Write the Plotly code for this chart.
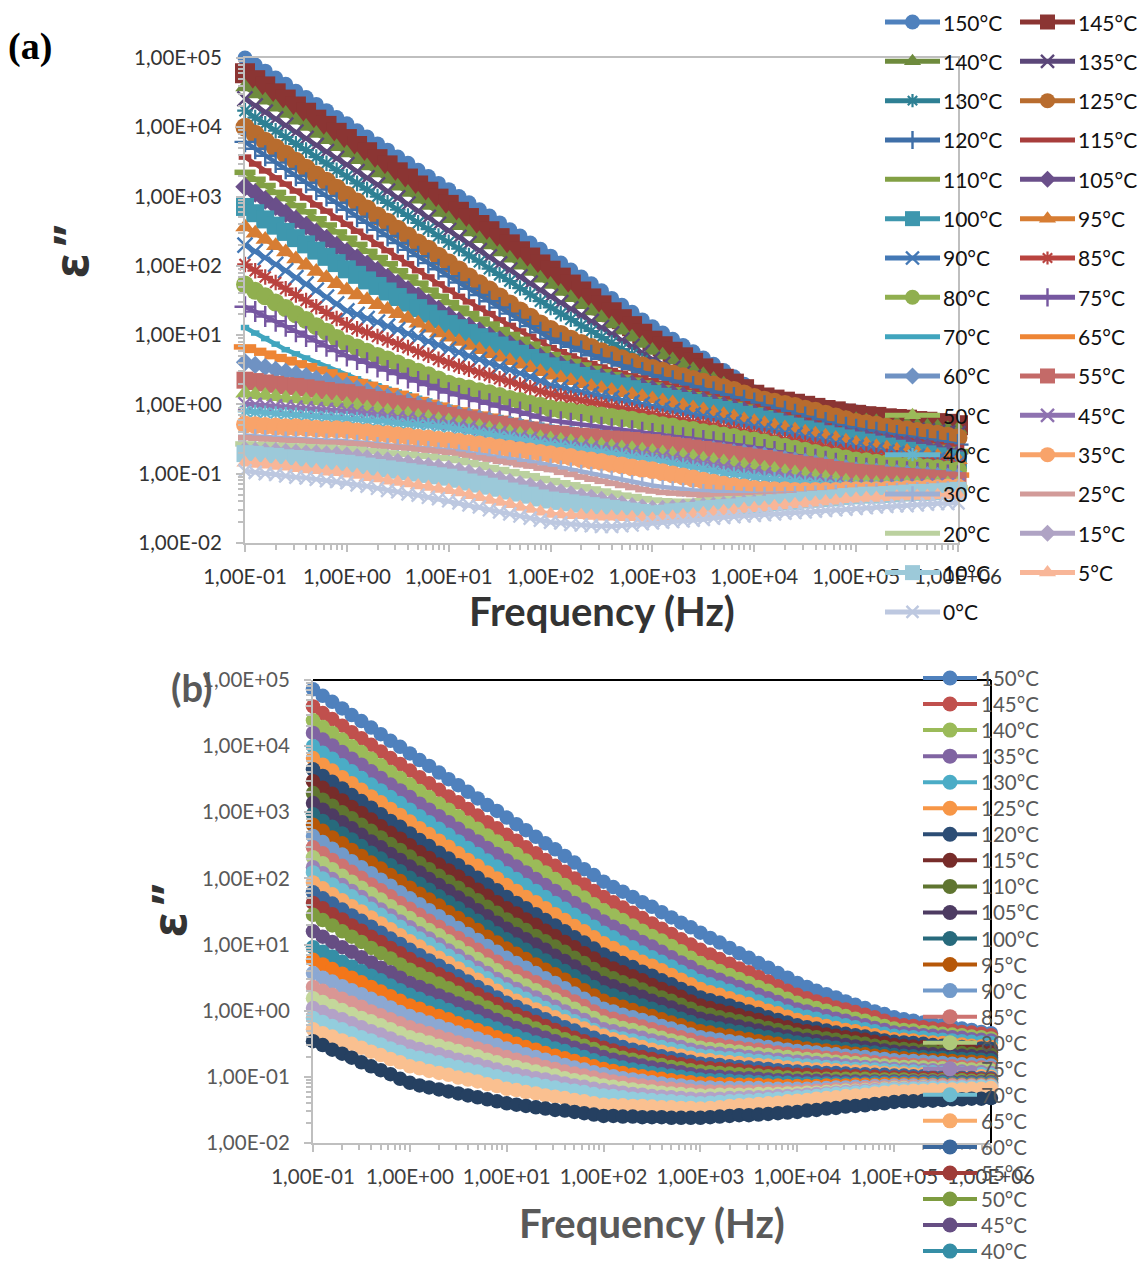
import plotly.graph_objects as go

# Frequency grid: ten readings per decade
FREQ_MANT = [1, 1.26, 1.58, 2, 2.51, 3.16, 3.98, 5.01, 6.31, 7.94]
FREQ_DEC = [0.1, 1, 10, 100, 1000, 10000, 100000]
FREQ = [round(m * d, 3) for d in FREQ_DEC for m in FREQ_MANT] + [1000000]

TICKS = [0.1, 1, 10, 100, 1000, 10000, 100000, 1000000]
XLABELS = ["1,00E-01", "1,00E+00", "1,00E+01", "1,00E+02", "1,00E+03", "1,00E+04", "1,00E+05", "1,00E+06"]
YTICKS = [0.01, 0.1, 1, 10, 100, 1000, 10000, 100000]
YLABELS = ["1,00E-02", "1,00E-01", "1,00E+00", "1,00E+01", "1,00E+02", "1,00E+03", "1,00E+04", "1,00E+05"]
TEMPS = [150, 145, 140, 135, 130, 125, 120, 115, 110, 105, 100, 95, 90, 85, 80, 75, 70, 65, 60, 55, 50, 45, 40, 35, 30, 25, 20, 15, 10, 5, 0]

# Panel (a): log10(eps'') x 100, one list per temperature
A150=[500,490,481,471,462,452,443,433,424,414,405,395,386,376,367,357,348,338,329,319,310,300,291,281,272,262,252,243,233,224,214,204,194,184,174,164,153,143,133,122,112,103,94,85,76,67,58,49,40,29,18,13,9,5,2,0,-2,-4,-7,-9,-11,-13,-15,-18,-20,-22,-24,-26,-28,-31,-33]
A145=[478,468,459,449,440,430,421,411,402,392,383,373,364,354,345,335,326,316,307,297,288,278,269,259,250,240,231,221,212,202,193,183,173,163,153,143,133,123,113,102,92,84,76,68,60,52,45,37,30,22,14,10,7,4,1,-2,-5,-8,-10,-13,-15,-17,-18,-20,-21,-22,-24,-25,-27,-28,-30]
A140=[458,448,439,429,420,410,401,391,382,372,363,353,344,334,325,315,306,296,287,277,268,258,249,239,230,220,211,201,192,182,173,163,154,144,135,125,116,107,97,88,78,71,64,57,50,43,36,29,22,13,5,2,-2,-5,-8,-11,-13,-15,-18,-20,-22,-24,-25,-27,-28,-29,-31,-32,-33,-35,-36]
A135=[441,431,422,412,403,393,384,374,365,355,346,336,327,317,308,298,289,279,270,260,251,241,232,222,213,203,194,184,175,165,156,147,138,129,120,111,102,93,84,75,65,58,52,45,39,32,26,19,12,5,-2,-5,-8,-11,-14,-17,-20,-23,-25,-28,-30,-31,-32,-34,-35,-36,-37,-38,-40,-41,-42]
A130=[424,414,405,395,386,376,367,357,348,338,329,319,310,300,291,281,272,262,253,243,234,225,215,206,196,187,178,168,159,149,140,131,123,114,106,97,89,80,72,63,55,49,43,37,31,25,19,13,7,1,-5,-8,-11,-14,-17,-20,-23,-26,-28,-31,-33,-34,-35,-37,-38,-39,-40,-41,-43,-44,-45]
A125=[400,390,380,370,361,351,341,331,322,312,302,292,282,272,263,253,243,233,224,214,204,194,184,174,165,155,145,135,126,116,108,101,94,88,82,76,71,66,61,56,52,48,44,40,36,32,28,24,20,15,10,6,3,0,-3,-7,-10,-14,-18,-22,-26,-28,-30,-33,-35,-37,-39,-41,-43,-46,-48]
A120=[379,369,359,349,340,330,320,310,301,291,281,271,262,252,243,233,223,214,204,195,185,176,167,158,149,140,131,122,113,104,95,89,83,77,71,66,61,56,51,46,42,38,34,30,26,22,18,14,10,6,2,-2,-6,-10,-14,-18,-22,-26,-30,-33,-36,-38,-40,-43,-45,-47,-49,-51,-53,-56,-58]
A115=[357,347,337,327,318,308,298,288,279,269,260,250,241,231,222,212,203,193,184,174,165,156,148,139,131,122,114,106,98,90,82,76,70,64,59,54,49,45,41,38,34,30,26,23,19,15,11,8,4,1,-3,-7,-11,-15,-19,-23,-27,-31,-35,-39,-42,-44,-46,-48,-50,-52,-54,-56,-58,-60,-62]
A110=[335,325,316,306,297,287,278,268,259,249,240,231,221,212,203,193,184,175,165,156,147,139,131,123,116,108,101,94,87,80,72,67,62,57,52,47,43,39,35,31,28,24,21,17,14,10,7,3,0,-4,-8,-12,-16,-20,-24,-28,-32,-36,-40,-43,-45,-47,-49,-51,-54,-56,-58,-60,-62,-65,-68]
A105=[314,305,295,286,276,267,258,248,239,229,220,211,202,193,183,174,165,156,146,137,128,120,113,106,99,93,87,80,74,68,62,57,52,47,43,39,35,32,29,25,22,18,15,12,8,5,2,-2,-5,-9,-13,-17,-21,-25,-29,-33,-36,-39,-42,-45,-47,-49,-51,-54,-56,-58,-60,-63,-66,-69,-72]
A100=[285,276,267,258,249,240,231,222,213,204,195,187,179,171,163,155,147,139,131,123,116,110,103,97,91,85,79,73,67,61,55,50,46,41,37,33,30,26,22,18,15,11,8,5,2,-2,-5,-8,-11,-15,-18,-22,-25,-29,-32,-36,-39,-43,-46,-49,-52,-55,-58,-61,-64,-67,-70,-72,-75,-78,-81]
A95=[256,247,238,229,220,210,201,192,183,174,165,158,151,144,137,131,124,117,110,103,97,91,85,79,73,68,63,58,53,47,42,38,34,30,26,23,20,17,14,11,8,5,2,-2,-5,-8,-12,-15,-18,-22,-25,-28,-31,-34,-37,-40,-43,-46,-49,-53,-56,-58,-61,-63,-66,-68,-70,-73,-75,-78,-80]
A90=[230,221,212,202,193,183,174,165,155,145,135,130,124,119,113,108,102,97,91,86,80,75,70,65,60,55,50,45,40,34,28,25,21,18,15,12,9,6,3,0,-3,-6,-9,-12,-15,-17,-20,-23,-26,-29,-32,-35,-38,-41,-44,-47,-50,-53,-56,-59,-62,-64,-66,-69,-71,-73,-75,-78,-80,-82,-85]
A85=[202,193,184,176,167,158,150,141,132,124,115,109,104,98,93,87,82,76,71,65,60,55,51,46,42,37,33,28,24,19,15,12,9,6,3,0,-3,-6,-8,-11,-14,-17,-20,-23,-26,-28,-31,-34,-36,-39,-42,-45,-48,-51,-53,-56,-59,-62,-65,-67,-70,-72,-74,-75,-77,-79,-81,-83,-85,-86,-88]
A80=[173,164,156,147,139,130,122,113,105,96,88,82,76,70,65,59,53,47,42,36,30,26,23,19,16,12,8,5,1,-2,-6,-8,-10,-12,-14,-16,-18,-20,-22,-25,-27,-30,-32,-35,-37,-40,-42,-45,-47,-50,-52,-55,-58,-61,-64,-67,-70,-73,-75,-78,-81,-82,-84,-85,-87,-88,-89,-91,-92,-94,-95]
A75=[141,134,127,120,113,105,98,91,84,77,70,65,60,54,49,44,38,33,28,22,17,13,9,5,1,-3,-7,-11,-15,-19,-23,-25,-27,-29,-31,-33,-35,-37,-38,-40,-42,-44,-46,-48,-50,-52,-54,-56,-58,-60,-62,-65,-68,-71,-74,-77,-79,-82,-85,-88,-91,-92,-93,-95,-96,-97,-98,-99,-100,-102,-103]
A70=[111,103,95,87,79,73,67,60,54,48,42,37,32,27,22,18,14,9,5,0,-4,-8,-11,-14,-17,-19,-22,-25,-28,-30,-33,-35,-36,-38,-40,-42,-43,-45,-47,-48,-50,-52,-54,-55,-57,-59,-61,-62,-64,-66,-68,-70,-72,-74,-77,-79,-81,-83,-85,-88,-90,-91,-92,-93,-94,-95,-96,-97,-98,-99,-100]
A65=[83,78,74,69,65,60,56,51,47,42,37,33,29,24,20,16,12,7,3,-1,-5,-8,-11,-14,-17,-20,-23,-26,-29,-32,-35,-37,-39,-40,-42,-44,-45,-47,-49,-50,-52,-54,-56,-58,-59,-61,-63,-65,-66,-68,-70,-72,-74,-76,-79,-81,-83,-85,-87,-90,-92,-93,-94,-95,-96,-97,-98,-99,-100,-101,-102]
A60=[61,57,54,50,47,44,41,37,34,30,27,23,19,15,11,8,4,0,-3,-7,-11,-14,-17,-20,-23,-26,-28,-31,-34,-37,-40,-42,-43,-45,-46,-48,-49,-51,-52,-54,-55,-57,-59,-60,-62,-64,-65,-67,-69,-70,-72,-74,-76,-79,-81,-83,-85,-87,-90,-92,-95,-96,-97,-98,-99,-100,-101,-102,-103,-104,-105]
A55=[35,33,31,29,27,26,24,22,20,18,17,14,10,7,4,1,-3,-6,-9,-13,-16,-19,-21,-24,-27,-29,-32,-35,-37,-40,-42,-43,-45,-46,-47,-49,-50,-51,-52,-54,-55,-57,-59,-61,-63,-65,-67,-69,-72,-74,-76,-78,-80,-83,-85,-87,-89,-91,-94,-96,-98,-99,-100,-102,-103,-104,-105,-106,-107,-109,-110]
A50=[16,14,13,11,9,8,6,5,3,2,0,-2,-5,-7,-10,-12,-14,-17,-19,-22,-24,-27,-29,-32,-35,-37,-40,-43,-45,-48,-50,-52,-54,-56,-58,-59,-61,-63,-64,-66,-68,-70,-72,-74,-76,-79,-81,-83,-85,-88,-90,-92,-94,-97,-99,-101,-104,-106,-108,-111,-113,-113,-114,-114,-114,-114,-115,-115,-115,-115,-115]
A45=[1,0,-1,-2,-3,-4,-5,-6,-7,-8,-9,-11,-13,-15,-17,-19,-20,-22,-24,-26,-28,-31,-33,-36,-39,-41,-44,-47,-49,-52,-54,-56,-58,-60,-62,-64,-65,-67,-69,-71,-73,-75,-78,-80,-83,-85,-88,-90,-93,-95,-98,-100,-102,-104,-106,-108,-110,-112,-114,-116,-118,-118,-118,-118,-117,-117,-117,-117,-116,-116,-116]
A40=[-10,-11,-12,-13,-14,-15,-16,-17,-18,-19,-20,-21,-23,-24,-25,-27,-28,-29,-30,-32,-33,-36,-38,-41,-43,-46,-48,-51,-53,-56,-58,-60,-62,-65,-67,-69,-71,-73,-76,-78,-80,-83,-85,-88,-91,-93,-96,-99,-101,-103,-105,-107,-108,-110,-111,-113,-114,-116,-117,-119,-120,-120,-120,-120,-119,-119,-119,-119,-118,-118,-118]
A35=[-29,-30,-31,-32,-33,-33,-34,-35,-36,-36,-37,-39,-40,-42,-43,-45,-46,-48,-49,-51,-52,-54,-56,-58,-60,-62,-64,-66,-68,-70,-72,-74,-76,-79,-81,-83,-86,-88,-91,-93,-95,-98,-101,-104,-107,-110,-113,-116,-118,-120,-122,-123,-124,-124,-125,-125,-125,-125,-125,-124,-124,-124,-124,-123,-123,-122,-122,-121,-121,-120,-120]
A30=[-45,-46,-47,-48,-49,-49,-50,-51,-52,-52,-53,-54,-56,-57,-59,-60,-61,-62,-63,-65,-66,-68,-70,-72,-74,-77,-79,-81,-83,-85,-88,-91,-94,-97,-100,-103,-106,-109,-112,-115,-117,-119,-121,-123,-124,-125,-126,-127,-128,-129,-129,-129,-129,-129,-128,-128,-127,-127,-126,-126,-125,-125,-124,-124,-123,-123,-122,-122,-121,-121,-120]
A25=[-48,-49,-50,-51,-52,-52,-53,-54,-55,-55,-56,-57,-58,-60,-61,-62,-63,-65,-66,-68,-69,-72,-74,-77,-79,-82,-84,-87,-89,-92,-94,-98,-101,-105,-108,-111,-114,-117,-120,-123,-125,-127,-128,-129,-130,-131,-132,-132,-132,-132,-132,-131,-131,-130,-130,-129,-128,-128,-127,-127,-126,-125,-125,-124,-124,-123,-123,-122,-121,-121,-120]
A20=[-57,-58,-58,-59,-60,-60,-61,-62,-62,-63,-64,-65,-67,-68,-70,-71,-72,-74,-75,-77,-78,-81,-84,-87,-91,-94,-97,-100,-103,-107,-110,-113,-116,-119,-122,-125,-128,-131,-133,-136,-138,-139,-140,-140,-140,-139,-138,-137,-136,-136,-135,-134,-134,-133,-132,-132,-131,-130,-130,-129,-128,-127,-127,-126,-125,-124,-123,-123,-122,-121,-120]
A15=[-64,-65,-66,-66,-67,-68,-69,-69,-70,-71,-72,-74,-76,-78,-79,-81,-83,-85,-87,-89,-91,-94,-97,-100,-103,-106,-110,-113,-116,-119,-122,-125,-128,-131,-133,-136,-139,-142,-145,-147,-149,-149,-148,-147,-146,-145,-144,-143,-142,-141,-140,-139,-138,-137,-136,-135,-134,-133,-132,-131,-130,-129,-128,-128,-127,-126,-125,-124,-124,-123,-122]
A10=[-71,-72,-74,-75,-77,-78,-79,-81,-82,-84,-85,-87,-89,-91,-93,-95,-97,-99,-101,-103,-105,-108,-112,-115,-118,-121,-125,-128,-131,-135,-138,-140,-142,-144,-146,-148,-150,-152,-154,-156,-158,-157,-155,-154,-153,-151,-150,-149,-148,-146,-145,-144,-142,-141,-140,-138,-137,-136,-135,-133,-132,-131,-131,-130,-129,-128,-127,-127,-126,-125,-124]
A5=[-84,-86,-87,-89,-90,-92,-94,-95,-97,-98,-100,-102,-105,-107,-110,-112,-114,-117,-119,-122,-124,-127,-131,-134,-138,-141,-144,-148,-151,-155,-158,-159,-160,-160,-161,-162,-162,-163,-163,-164,-165,-163,-162,-160,-159,-157,-156,-154,-153,-151,-150,-149,-147,-146,-144,-143,-142,-140,-139,-137,-136,-135,-135,-134,-133,-133,-132,-132,-131,-131,-130]
A0=[-96,-98,-100,-101,-103,-105,-106,-108,-110,-111,-113,-116,-118,-121,-124,-126,-129,-131,-134,-136,-139,-142,-145,-148,-152,-155,-158,-161,-164,-167,-170,-171,-173,-174,-175,-176,-176,-175,-174,-172,-171,-170,-169,-168,-167,-166,-164,-163,-162,-161,-160,-159,-158,-157,-156,-155,-154,-153,-152,-151,-150,-149,-148,-147,-146,-146,-145,-144,-143,-143,-142]

# Panel (b): log10(eps'') x 100, one list per temperature
B150=[486,476,467,457,447,438,428,418,408,399,389,379,370,360,350,341,331,321,311,302,292,282,273,263,253,244,234,224,214,205,195,187,180,172,164,157,149,141,133,126,118,110,103,95,87,80,72,65,57,50,42,36,30,25,20,14,9,4,-1,-5,-10,-13,-15,-18,-20,-22,-24,-27,-29,-32,-34]
B145=[460,450,441,431,421,412,402,392,382,373,363,353,344,334,324,315,305,295,285,276,266,257,247,238,228,219,210,200,191,181,172,164,156,148,140,132,124,116,108,100,92,85,78,71,64,58,51,44,37,30,24,19,14,10,5,2,-2,-6,-10,-15,-20,-22,-23,-25,-27,-28,-30,-32,-33,-35,-37]
B140=[439,429,420,410,400,391,381,371,361,352,342,332,323,313,304,294,284,275,265,256,246,237,227,218,209,199,190,180,171,161,152,144,137,129,121,113,106,98,90,80,72,66,60,54,48,42,36,30,24,18,12,8,4,0,-4,-8,-12,-15,-19,-23,-27,-29,-30,-32,-33,-35,-36,-37,-39,-40,-42]
B135=[420,410,401,391,381,372,362,352,342,333,323,313,304,294,285,275,265,256,246,237,227,218,209,199,190,181,172,163,153,144,135,127,120,112,104,97,89,81,73,66,58,52,47,41,36,30,24,19,13,8,2,-1,-5,-8,-12,-15,-19,-22,-26,-29,-33,-34,-35,-37,-38,-39,-40,-41,-43,-44,-45]
B130=[400,390,381,371,362,352,342,333,323,314,304,294,285,275,266,256,246,237,227,218,208,199,190,181,172,163,154,145,136,127,118,111,103,96,88,81,74,67,59,52,45,40,35,30,25,20,14,9,4,-1,-6,-9,-12,-16,-19,-22,-25,-28,-31,-35,-38,-39,-40,-41,-43,-44,-45,-46,-47,-48,-49]
B125=[382,372,363,353,344,334,324,315,305,296,286,276,267,257,248,238,228,219,209,200,190,181,172,164,155,146,137,128,120,111,102,95,88,81,74,68,61,54,47,40,33,28,24,19,14,10,5,0,-4,-9,-14,-17,-20,-23,-26,-29,-31,-34,-37,-40,-43,-44,-45,-47,-48,-49,-50,-51,-53,-54,-55]
B120=[365,355,346,336,326,317,307,297,287,278,268,258,249,239,230,220,210,201,191,182,172,163,155,146,137,129,120,111,103,94,85,79,72,66,59,53,46,40,33,27,20,16,12,8,3,-1,-5,-10,-14,-18,-22,-25,-27,-30,-33,-35,-37,-39,-42,-45,-47,-48,-49,-50,-52,-53,-54,-55,-56,-57,-58]
B115=[347,337,328,318,308,299,289,279,269,260,250,240,231,221,212,203,193,183,174,164,155,147,138,130,121,113,104,96,87,79,70,64,58,52,46,39,33,27,21,14,8,4,0,-3,-7,-11,-14,-18,-22,-25,-29,-31,-33,-36,-38,-40,-42,-44,-47,-49,-52,-53,-54,-55,-57,-58,-59,-60,-61,-62,-63]
B110=[329,319,310,300,291,281,272,262,252,243,233,223,214,204,195,186,176,167,157,148,138,130,122,113,105,97,89,80,72,63,55,49,43,38,32,26,20,15,9,3,-3,-6,-10,-13,-16,-19,-23,-26,-29,-32,-36,-38,-40,-42,-44,-46,-48,-50,-53,-55,-57,-58,-59,-60,-61,-62,-63,-64,-65,-66,-67]
B105=[314,304,295,285,276,266,256,247,237,228,218,209,199,190,181,171,162,152,143,133,124,116,108,100,92,83,75,67,58,50,42,37,31,26,21,15,10,5,-1,-7,-12,-15,-18,-21,-24,-27,-30,-33,-36,-39,-42,-44,-46,-48,-50,-52,-54,-56,-58,-60,-62,-63,-64,-65,-66,-67,-67,-68,-69,-70,-71]
B100=[297,287,278,268,259,249,239,230,220,211,201,192,183,173,164,155,145,136,127,117,108,100,92,84,76,68,60,52,44,36,28,23,18,13,8,3,-2,-7,-12,-17,-22,-25,-27,-30,-32,-35,-38,-40,-43,-45,-48,-50,-52,-54,-56,-58,-60,-62,-63,-65,-67,-68,-69,-70,-71,-71,-72,-73,-73,-74,-75]
B95=[281,272,262,253,243,234,224,215,205,196,186,177,168,159,149,140,131,122,112,103,94,86,78,70,62,55,47,39,31,23,15,10,6,1,-4,-8,-13,-18,-22,-27,-31,-33,-36,-38,-41,-43,-46,-48,-50,-53,-55,-57,-59,-60,-62,-63,-65,-66,-68,-69,-71,-72,-73,-74,-75,-75,-76,-77,-77,-78,-79]
B90=[264,255,245,236,226,217,208,198,189,179,170,161,152,143,134,125,116,107,98,89,80,72,65,57,49,42,34,26,18,11,3,-1,-6,-10,-14,-18,-23,-27,-31,-36,-40,-42,-44,-46,-48,-51,-53,-55,-57,-59,-61,-62,-63,-65,-66,-68,-69,-70,-72,-73,-75,-76,-76,-77,-78,-79,-80,-81,-81,-82,-83]
B85=[247,238,228,219,210,201,191,182,173,163,154,145,136,127,118,110,101,92,83,74,65,58,50,43,36,29,21,14,7,-1,-8,-12,-16,-20,-24,-28,-32,-36,-40,-44,-48,-50,-52,-54,-56,-58,-59,-61,-63,-65,-67,-68,-69,-71,-72,-73,-75,-76,-78,-79,-80,-81,-82,-82,-83,-84,-84,-85,-86,-86,-87]
B80=[232,223,214,204,195,186,177,168,158,149,140,131,122,114,105,96,87,78,70,61,52,45,38,31,24,17,10,3,-4,-11,-18,-22,-26,-29,-33,-37,-41,-45,-48,-52,-56,-58,-59,-61,-62,-64,-66,-67,-69,-70,-72,-73,-74,-75,-77,-78,-79,-80,-82,-83,-84,-85,-85,-86,-87,-87,-88,-88,-89,-89,-90]
B75=[217,208,199,190,181,172,162,153,144,135,126,117,109,100,91,83,74,65,57,48,40,33,26,20,13,6,-1,-8,-14,-21,-28,-31,-35,-38,-41,-45,-48,-52,-55,-59,-62,-64,-65,-67,-68,-70,-71,-73,-74,-76,-77,-78,-79,-80,-81,-83,-84,-85,-86,-87,-88,-89,-89,-90,-90,-91,-92,-92,-93,-93,-94]
B70=[209,200,191,182,173,164,154,145,136,127,118,109,101,92,83,75,66,57,49,40,32,25,18,11,4,-2,-9,-16,-22,-29,-36,-39,-42,-45,-49,-52,-55,-58,-61,-65,-68,-69,-71,-72,-73,-75,-76,-77,-79,-80,-82,-83,-84,-85,-86,-87,-88,-88,-89,-90,-91,-92,-92,-93,-93,-94,-95,-95,-96,-96,-97]
B65=[194,185,176,167,158,150,141,132,123,114,105,97,88,80,72,64,55,47,39,30,22,15,9,2,-4,-10,-16,-22,-27,-33,-38,-43,-47,-51,-55,-59,-62,-65,-68,-71,-74,-75,-77,-78,-79,-81,-82,-83,-84,-86,-87,-88,-89,-89,-90,-91,-92,-92,-93,-94,-95,-95,-96,-96,-97,-97,-98,-98,-99,-99,-100]
B60=[179,170,162,153,144,136,127,118,109,101,92,84,76,68,60,52,44,36,28,20,12,6,-1,-7,-13,-19,-25,-30,-36,-41,-46,-50,-55,-59,-62,-66,-69,-72,-74,-77,-80,-81,-82,-84,-85,-86,-87,-88,-90,-91,-92,-93,-93,-94,-94,-95,-96,-96,-97,-97,-98,-98,-99,-99,-100,-100,-100,-101,-101,-102,-102]
B55=[163,155,146,138,129,121,112,104,95,87,78,70,63,55,48,40,32,25,17,10,2,-5,-11,-17,-23,-29,-35,-41,-46,-51,-56,-60,-64,-67,-70,-73,-76,-78,-81,-83,-86,-87,-88,-89,-90,-92,-93,-94,-95,-96,-97,-97,-98,-98,-99,-99,-99,-100,-100,-101,-101,-101,-102,-102,-102,-103,-103,-103,-103,-104,-104]
B50=[145,137,129,120,112,104,95,87,79,70,62,55,48,41,34,27,19,12,5,-2,-9,-15,-21,-27,-32,-38,-43,-48,-53,-58,-63,-67,-71,-74,-77,-80,-82,-85,-87,-90,-92,-93,-94,-95,-96,-97,-98,-99,-100,-101,-102,-102,-103,-103,-103,-103,-103,-103,-104,-104,-104,-104,-105,-105,-105,-105,-105,-105,-106,-106,-106]
B45=[120,112,104,96,89,81,73,65,58,50,42,36,30,23,17,11,5,-1,-8,-14,-20,-26,-31,-36,-41,-46,-51,-56,-60,-65,-70,-74,-77,-80,-83,-86,-88,-91,-93,-96,-98,-99,-100,-101,-102,-102,-103,-104,-105,-105,-106,-106,-106,-106,-107,-107,-107,-107,-107,-107,-107,-107,-107,-107,-107,-107,-108,-108,-108,-108,-108]
B40=[96,89,82,74,67,60,53,46,38,31,24,18,12,7,1,-5,-10,-16,-22,-27,-33,-38,-43,-48,-52,-57,-61,-66,-70,-75,-79,-83,-86,-89,-91,-94,-96,-98,-100,-102,-104,-105,-105,-106,-107,-107,-108,-108,-109,-109,-110,-110,-110,-110,-110,-110,-110,-110,-109,-109,-109,-109,-109,-109,-109,-109,-110,-110,-110,-110,-110]
B35=[77,70,63,56,50,43,36,29,22,15,8,3,-3,-8,-13,-19,-24,-29,-34,-40,-45,-50,-55,-59,-64,-68,-72,-76,-80,-84,-88,-91,-94,-97,-99,-101,-103,-105,-107,-108,-110,-110,-111,-111,-112,-112,-112,-113,-113,-114,-114,-114,-114,-113,-113,-113,-112,-112,-112,-111,-111,-111,-111,-111,-112,-112,-112,-112,-112,-112,-112]
B30=[57,50,44,37,31,25,18,12,5,-2,-8,-13,-18,-23,-28,-33,-37,-42,-47,-52,-57,-61,-66,-70,-74,-78,-82,-86,-89,-93,-96,-99,-102,-104,-106,-108,-110,-112,-113,-115,-116,-116,-117,-117,-117,-117,-117,-118,-118,-118,-118,-118,-117,-117,-116,-116,-115,-115,-114,-114,-113,-113,-113,-113,-113,-113,-113,-113,-113,-113,-113]
B25=[36,30,24,18,12,6,-1,-7,-13,-19,-25,-30,-34,-39,-43,-48,-52,-57,-61,-66,-70,-74,-78,-81,-85,-88,-92,-95,-98,-101,-104,-107,-109,-111,-113,-115,-117,-118,-119,-121,-122,-122,-122,-122,-122,-122,-122,-122,-122,-122,-122,-121,-121,-120,-119,-119,-118,-117,-116,-116,-115,-115,-115,-115,-115,-114,-114,-114,-114,-114,-114]
B20=[19,13,7,1,-5,-11,-16,-22,-28,-34,-40,-44,-48,-53,-57,-61,-65,-69,-74,-78,-82,-85,-89,-92,-95,-98,-102,-105,-107,-110,-113,-115,-117,-119,-121,-122,-124,-125,-126,-127,-128,-128,-127,-127,-127,-127,-126,-126,-126,-125,-125,-124,-124,-123,-122,-121,-121,-120,-119,-118,-117,-117,-117,-116,-116,-116,-116,-116,-115,-115,-115]
B15=[4,-2,-8,-13,-19,-25,-31,-36,-42,-48,-54,-58,-62,-66,-70,-74,-77,-81,-85,-89,-93,-96,-99,-102,-104,-107,-110,-113,-115,-118,-120,-122,-124,-126,-127,-129,-130,-131,-132,-133,-134,-133,-133,-132,-132,-131,-131,-130,-129,-129,-128,-127,-126,-125,-124,-123,-122,-121,-120,-119,-118,-118,-117,-117,-116,-116,-116,-115,-115,-115,-115]
B10=[-11,-17,-23,-28,-34,-40,-45,-51,-57,-62,-68,-71,-75,-78,-82,-85,-89,-92,-96,-99,-103,-106,-109,-111,-114,-116,-119,-121,-123,-126,-128,-129,-131,-133,-134,-135,-136,-137,-138,-139,-140,-139,-138,-137,-136,-136,-135,-134,-133,-132,-131,-130,-129,-127,-126,-125,-124,-123,-122,-120,-119,-119,-118,-118,-117,-117,-117,-116,-116,-115,-115]
B5=[-28,-34,-39,-45,-50,-56,-62,-67,-73,-78,-84,-87,-91,-94,-97,-101,-104,-107,-111,-114,-118,-120,-123,-125,-128,-130,-132,-135,-137,-140,-142,-143,-143,-144,-144,-145,-146,-146,-147,-147,-148,-147,-146,-144,-143,-142,-141,-140,-139,-137,-136,-135,-133,-132,-131,-129,-128,-127,-125,-124,-122,-122,-121,-121,-120,-120,-119,-119,-118,-118,-117]
B0=[-46,-52,-59,-65,-71,-78,-84,-90,-96,-103,-109,-113,-116,-119,-122,-125,-128,-131,-134,-137,-140,-142,-144,-146,-148,-150,-151,-153,-155,-157,-159,-159,-160,-160,-161,-161,-161,-162,-162,-162,-162,-161,-160,-159,-158,-158,-157,-156,-155,-154,-153,-151,-150,-148,-147,-145,-144,-143,-141,-140,-138,-137,-137,-136,-136,-135,-134,-134,-133,-133,-132]

A_VALUES = [A150,A145,A140,A135,A130,A125,A120,A115,A110,A105,A100,A95,A90,A85,A80,A75,A70,A65,A60,A55,A50,A45,A40,A35,A30,A25,A20,A15,A10,A5,A0]
B_VALUES = [B150,B145,B140,B135,B130,B125,B120,B115,B110,B105,B100,B95,B90,B85,B80,B75,B70,B65,B60,B55,B50,B45,B40,B35,B30,B25,B20,B15,B10,B5,B0]

A_COLORS = ["#4F81BD","#8B3533","#6E8B3D","#5B4779","#2E8094","#B86C2E","#3F6FA8","#A83E3C","#82A044","#6A4F8A","#3E97AE","#D77D33","#4378B5","#B9433F","#90AF4F","#7657A0","#40A5BE","#EE8535","#6F92C3","#C46A68","#9BBB59","#8E72B0","#65B5CD","#F8A36A","#9DAFD4","#D29B99","#BBD19F","#AFA3C4","#9CC9D9","#F8B698","#BDC8E0"]
B_COLORS = ["#4F81BD","#C0504D","#9BBB59","#8064A2","#4BACC6","#F79646","#2C4D75","#772C2A","#5F7530","#4D3B62","#276A7C","#B65708","#729ACA","#CD7371","#AFC97A","#9983B5","#6FBDD1","#F9AB6B","#3A679C","#9F3B38","#7E9C40","#664E83","#358EA6","#F37619","#8CA8D2","#D99694","#C4D79B","#B3A2C7","#93CDDD","#FAC090","#254061"]
A_SYMBOLS = ["circle","square","triangle-up","x-thin","asterisk","circle","cross-thin","line-ew","line-ew","diamond","square","triangle-up","x-thin","asterisk","circle","cross-thin","line-ew","line-ew","diamond","square","triangle-up","x-thin","asterisk","circle","cross-thin","line-ew","line-ew","diamond","square","triangle-up","x-thin"]
A_SIZES = [15,20,17,15,13,19,15,9,15,15,18,17,15,13,18,15,0,16,14,17,17,13,12,18,10,10,14,12,17,15,13]
KEY_A_SIZES = [15,15,15,13,11,15,13,0,0,13,15,15,13,11,15,13,0,0,13,15,15,13,11,15,11,0,0,13,15,15,12]

GREY = "#BFBFBF"
FONT = "Lato"
W, H = 1142, 1261
PANEL_A = dict(left=245, right=958, top=58, bottom=543)
PANEL_B = dict(left=313, right=991, top=680, bottom=1143)
MINOR = [m * d for d in FREQ_DEC + [0.01] for m in (2, 3, 4, 5, 6, 7, 8, 9)]


def to_eps(row):
    return [10 ** (v / 100) for v in row]


def marker_for(sym, size, color):
    thin = {"x-thin": 2.4, "cross-thin": 2.4, "asterisk": 2.2, "line-ew": 5.5}
    return dict(symbol=sym, size=size, color=color, opacity=1,
                line=dict(color=color, width=thin.get(sym, 0)))


fig = go.Figure()

for t, row, color, sym, size in zip(TEMPS, A_VALUES, A_COLORS, A_SYMBOLS, A_SIZES):
    fig.add_trace(go.Scatter(x=FREQ, y=to_eps(row), name=f"{t}°C", mode="lines+markers",
                             line=dict(color=color, width=4.5), marker=marker_for(sym, size, color),
                             cliponaxis=False, xaxis="x", yaxis="y", showlegend=False, hoverinfo="skip"))
for t, row, color in zip(TEMPS, B_VALUES, B_COLORS):
    fig.add_trace(go.Scatter(x=FREQ, y=to_eps(row), name=f"{t}°C", mode="lines+markers",
                             line=dict(color=color, width=4), marker=dict(symbol="circle", size=14.5, color=color),
                             cliponaxis=False, xaxis="x2", yaxis="y2", showlegend=False, hoverinfo="skip"))

annotations = []


def key(x0, y, length, color, sym, size, lw, label, text_x, text_color, text_size):
    xs = [x0, x0 + length / 2, x0 + length]
    m = marker_for(sym, size, color)
    m["size"] = [0, size, 0]
    fig.add_trace(go.Scatter(x=xs, y=[y, y, y], mode="lines+markers", line=dict(color=color, width=lw),
                             marker=m, xaxis="x3", yaxis="y3", showlegend=False, hoverinfo="skip", cliponaxis=False))
    annotations.append(dict(x=text_x, y=y, xref="x3", yref="y3", text=label, showarrow=False, xanchor="left",
                            yanchor="middle", font=dict(family=FONT, size=text_size, color=text_color)))


for i, t in enumerate(TEMPS):
    row_i, col = i // 2, i % 2
    key(885 + 135 * col, 22 + 39.33 * row_i, 55, A_COLORS[i], A_SYMBOLS[i], KEY_A_SIZES[i], 5,
        f"{t}°C", 941 + 135 * col, "#111111", 21)
for i, t in enumerate(TEMPS[:23]):
    key(923, 678 + 26.05 * i, 54, B_COLORS[i], "circle", 15, 4, f"{t}°C", 979, "#595959", 20.5)

annotations += [
    dict(x=30, y=46, xref="x3", yref="y3", text="<b>(a)</b>", showarrow=False,
         font=dict(family="Liberation Serif", size=38, color="#000000")),
    dict(x=191, y=687, xref="x3", yref="y3", text="<b>(b)</b>", showarrow=False,
         font=dict(family=FONT, size=38, color="#595959")),
    dict(x=602, y=611, xref="x3", yref="y3", text="<b>Frequency (Hz)</b>", showarrow=False,
         font=dict(family=FONT, size=40, color="#333333")),
    dict(x=652, y=1223, xref="x3", yref="y3", text="<b>Frequency (Hz)</b>", showarrow=False,
         font=dict(family=FONT, size=40, color="#595959")),
    dict(x=70, y=252, xref="x3", yref="y3", text="<b>ε\u2009’’</b>", showarrow=False, textangle=-90,
         font=dict(family="Noto Sans", size=48, color="#333333")),
    dict(x=168, y=911, xref="x3", yref="y3", text="<b>ε\u2009’’</b>", showarrow=False, textangle=-90,
         font=dict(family="Noto Sans", size=48, color="#333333")),
]


def axis(panel, horizontal, ticks, labels, font_color, mirror):
    if horizontal:
        domain = [panel["left"] / W, panel["right"] / W]
        rng = [-1, 6]
        standoff = 7
    else:
        domain = [1 - panel["bottom"] / H, 1 - panel["top"] / H]
        rng = [-2, 5]
        standoff = 10
    return dict(type="log", domain=domain, range=rng, tickmode="array", tickvals=ticks, ticktext=labels,
                ticks="outside", ticklen=7, tickwidth=1.5, tickcolor=GREY, automargin=False,
                minor=dict(tickmode="array", tickvals=MINOR, ticks="outside", ticklen=5, tickwidth=1.5, tickcolor=GREY),
                showgrid=False, zeroline=False, showline=True, linecolor=GREY, linewidth=2, mirror=mirror,
                tickfont=dict(family=FONT, size=20.5, color=font_color), ticklabelstandoff=standoff, fixedrange=True)


fig.update_layout(
    template="none",
    width=W, height=H, autosize=False, margin=dict(l=0, r=0, t=0, b=0, pad=0),
    paper_bgcolor="white", plot_bgcolor="rgba(0,0,0,0)", showlegend=False,
    xaxis=dict(axis(PANEL_A, True, TICKS, XLABELS, "#333333", True), anchor="y"),
    yaxis=dict(axis(PANEL_A, False, YTICKS, YLABELS, "#333333", True), anchor="x"),
    xaxis2=dict(axis(PANEL_B, True, TICKS, XLABELS, "#404040", False), anchor="y2"),
    yaxis2=dict(axis(PANEL_B, False, YTICKS, YLABELS, "#595959", False), anchor="x2"),
    xaxis3=dict(domain=[0, 1], range=[0, W], visible=False, anchor="y3", fixedrange=True, automargin=False),
    yaxis3=dict(domain=[0, 1], range=[H, 0], visible=False, anchor="x3", fixedrange=True, automargin=False),
    annotations=annotations,
    shapes=[
        dict(type="line", xref="x2 domain", yref="y2 domain", x0=0, x1=1, y0=1, y1=1, line=dict(color="#000000", width=2), layer="below"),
        dict(type="line", xref="x2 domain", yref="y2 domain", x0=1, x1=1, y0=0, y1=1, line=dict(color="#000000", width=2), layer="below"),
    ],
)

fig.write_html("out.html", config=dict(displayModeBar=False), post_script="document.body.style.margin='0';")
